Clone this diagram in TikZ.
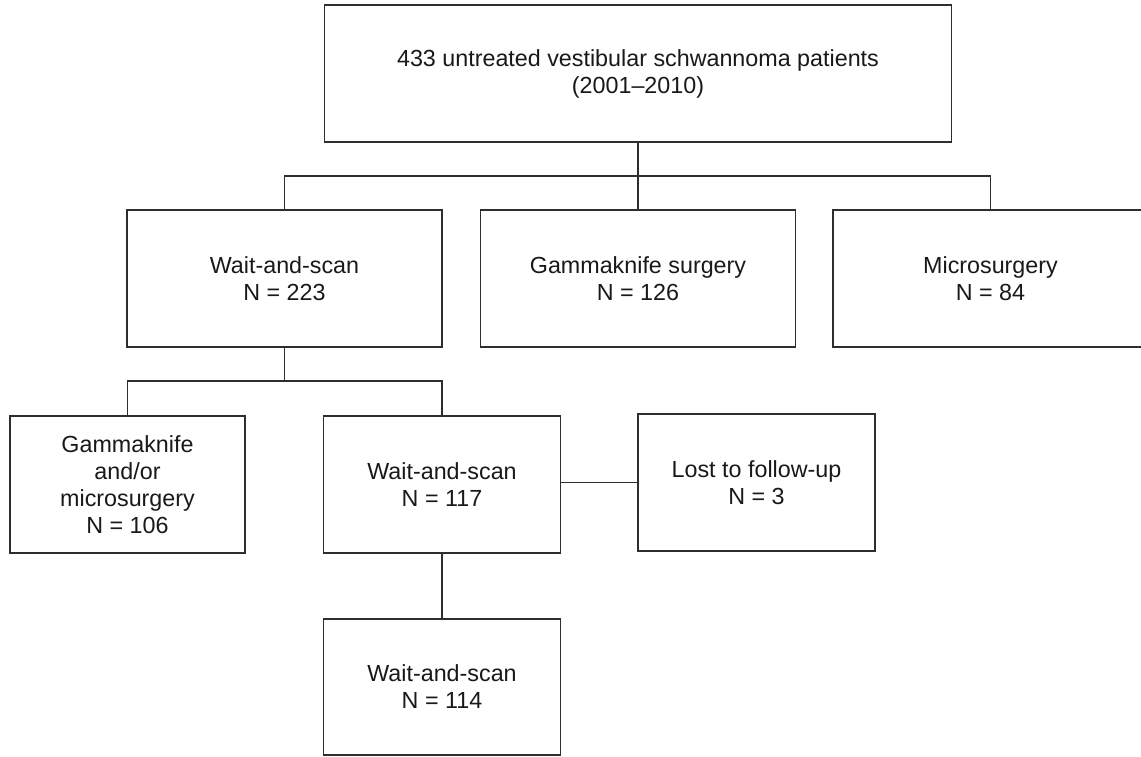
\documentclass[tikz,border=0pt]{standalone}
\usepackage{fontspec}
\setmainfont{Liberation Sans}
\definecolor{lc}{HTML}{2E2E2E}
\begin{document}
\begin{tikzpicture}[x=1pt,y=-1pt,
  box/.style={draw=lc,line width=1.6pt,rectangle,inner sep=0pt,align=center,
    font=\fontsize{23.3}{27}\selectfont,text=black!90},
  conn/.style={draw=lc,line width=1.5pt}]
\useasboundingbox (0,0) rectangle (1141,756);
\clip (0,0) rectangle (1141,756);
\fill[white] (0,0) rectangle (1141,756);
\node[box,minimum width=627pt,minimum height=137pt] (top) at (638,73.5)
  {433 untreated vestibular schwannoma patients\\(2001–2010)};
\node[box,minimum width=315pt,minimum height=137pt] (ws) at (284.5,278.5)
  {Wait-and-scan\\N = 223};
\node[box,minimum width=315pt,minimum height=137pt] (gk) at (638,278.5)
  {Gammaknife surgery\\N = 126};
\node[box,minimum width=315pt,minimum height=137pt] (ms) at (990.5,278.5)
  {Microsurgery\\N = 84};
\node[box,minimum width=235pt,minimum height=137pt] (gkm) at (127.5,484.5)
  {Gammaknife\\and/or\\microsurgery\\N = 106};
\node[box,minimum width=237pt,minimum height=137pt] (ws2) at (442,484.5)
  {Wait-and-scan\\N = 117};
\node[box,minimum width=237pt,minimum height=137pt] (lost) at (756.5,482.5)
  {Lost to follow-up\\N = 3};
\node[box,minimum width=237pt,minimum height=136pt] (ws3) at (442,687)
  {Wait-and-scan\\N = 114};
\coordinate (b1) at (638,176);
\coordinate (b2) at (284.5,381);
\draw[conn] (top.south) -- (b1);
\draw[conn] (ws.north) |- (b1) -| (ms.north);
\draw[conn] (b1) -- (gk.north);
\draw[conn] (ws.south) -- (b2);
\draw[conn] (gkm.north) |- (b2) -| (ws2.north);
\draw[conn] (lost.west) -- (lost.west -| ws2.east);
\draw[conn] (ws2.south) -- (ws3.north);
\end{tikzpicture}
\end{document}
